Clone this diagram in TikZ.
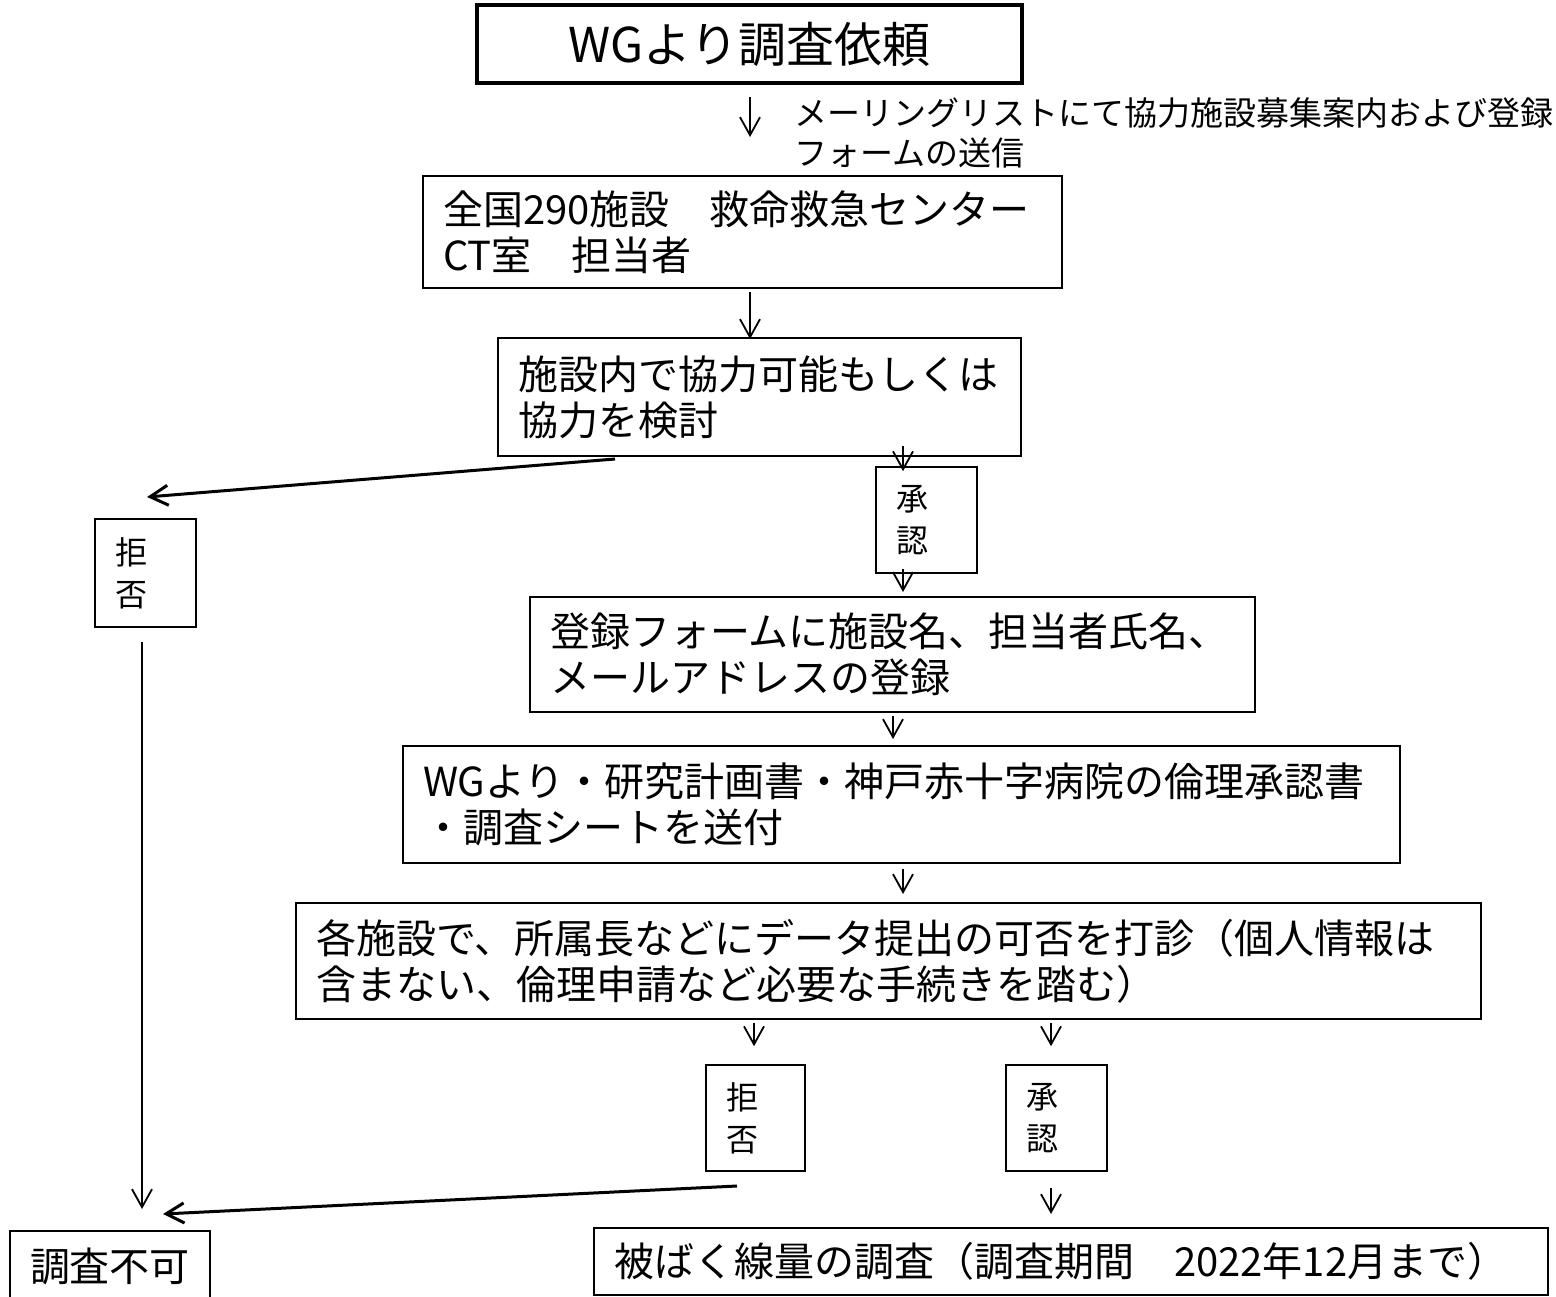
\documentclass[tikz,border=0pt]{standalone}
\usepackage{fontspec}
\setmainfont{Noto Sans CJK JP}
\usetikzlibrary{arrows.meta}
\newcommand\myfs[2]{\fontsize{#1}{#2}\selectfont}
\tikzset{
  box/.style={draw, line width=2pt, inner xsep=20pt, inner ysep=0pt, align=left, font=\myfs{40}{46}},
  vbox/.style={draw, line width=1.6pt, inner xsep=20pt, inner ysep=0pt, align=left, font=\myfs{32}{42}},
  arr/.style={-{Straight Barb[length=18pt,width=20pt]}, line width=1.8pt},
  tarr/.style={arr, line width=3pt},
}
\begin{document}
\begin{tikzpicture}[x=1pt,y=-1pt]
\useasboundingbox (0,0) rectangle (1556,1297);
\fill[white] (0,0) rectangle (1556,1297);
% column coordinates
\coordinate (c142) at (142,0);
\coordinate (c750) at (750,0);
\coordinate (c754) at (754,0);
\coordinate (c893) at (893,0);
\coordinate (c903) at (903,0);
\coordinate (c1051) at (1051,0);
% nodes
\node[draw, line width=4.5pt, minimum width=545pt, minimum height=78pt, inner sep=0pt, font=\myfs{48}{56}] (b1) at (749.5,44) {WGより調査依頼};
\node[anchor=west, align=left, inner sep=0pt, font=\myfs{33}{40}] (lab) at (794,133) {メーリングリストにて協力施設募集案内および登録\\フォームの送信};
\node[box, minimum width=639pt, minimum height=112pt, text width=599pt] (b2) at (742.5,232) {全国290施設　救命救急センター\\CT室　担当者};
\node[box, minimum width=523pt, minimum height=118pt, text width=483pt] (b3) at (759.5,397) {施設内で協力可能もしくは\\協力を検討};
\node[vbox, minimum width=101pt, minimum height=106pt, text width=61pt] (ok1) at (926.5,520) {承\\認};
\node[vbox, minimum width=101pt, minimum height=108pt, text width=61pt] (rej1) at (145.5,573) {拒\\否};
\node[box, minimum width=725pt, minimum height=115pt, text width=685pt] (b4) at (892.5,654.5) {登録フォームに施設名、担当者氏名、\\メールアドレスの登録};
\node[box, minimum width=997pt, minimum height=117pt, text width=957pt] (b5) at (901.5,804.5) {WGより・研究計画書・神戸赤十字病院の倫理承認書\\・調査シートを送付};
\node[box, minimum width=1185pt, minimum height=116pt, text width=1145pt] (b6) at (888.5,961) {各施設で、所属長などにデータ提出の可否を打診（個人情報は\\含まない、倫理申請など必要な手続きを踏む）};
\node[vbox, minimum width=99pt, minimum height=106pt, text width=59pt] (rej2) at (755.5,1118) {拒\\否};
\node[vbox, minimum width=101pt, minimum height=106pt, text width=61pt] (ok2) at (1056.5,1118) {承\\認};
\node[box, minimum width=200pt, minimum height=70pt, text width=160pt] (ng) at (110,1266) {調査不可};
\node[box, minimum width=954pt, minimum height=67pt, text width=914pt] (sv) at (1071,1261.5) {被ばく線量の調査（調査期間　2022年12月まで）};
% free ends of slanted arrows
\coordinate (b3out) at (615,459);
\coordinate (rej1in) at (147,497);
\coordinate (rej2out) at (737,1186);
\coordinate (ngin) at (163,1214);
% connectors
\draw[arr, shorten <=12pt, shorten >=38pt] (c750 |- b1.south) -- (c750 |- b2.north);
\draw[arr, shorten <=3pt, shorten >=-2pt] (c750 |- b2.south) -- (c750 |- b3.north);
\draw[tarr] (b3out) -- (rej1in);
\draw[arr, shorten <=-11pt, shorten >=-5pt] (c903 |- b3.south) -- (c903 |- ok1.north);
\draw[arr, shorten <=-5pt, shorten >=4pt] (c903 |- ok1.south) -- (c903 |- b4.north);
\draw[arr, shorten <=3pt, shorten >=6pt] (c893 |- b4.south) -- (c893 |- b5.north);
\draw[arr, shorten <=5pt, shorten >=8pt] (c903 |- b5.south) -- (c903 |- b6.north);
\draw[arr, shorten <=3pt, shorten >=18pt] (c754 |- b6.south) -- (c754 |- rej2.north);
\draw[arr, shorten <=3pt, shorten >=18pt] (c1051 |- b6.south) -- (c1051 |- ok2.north);
\draw[arr, shorten <=14pt, shorten >=21pt] (c142 |- rej1.south) -- (c142 |- ng.north);
\draw[tarr] (rej2out) -- (ngin);
\draw[arr, shorten <=16pt, shorten >=13pt] (c1051 |- ok2.south) -- (c1051 |- sv.north);
\end{tikzpicture}
\end{document}
